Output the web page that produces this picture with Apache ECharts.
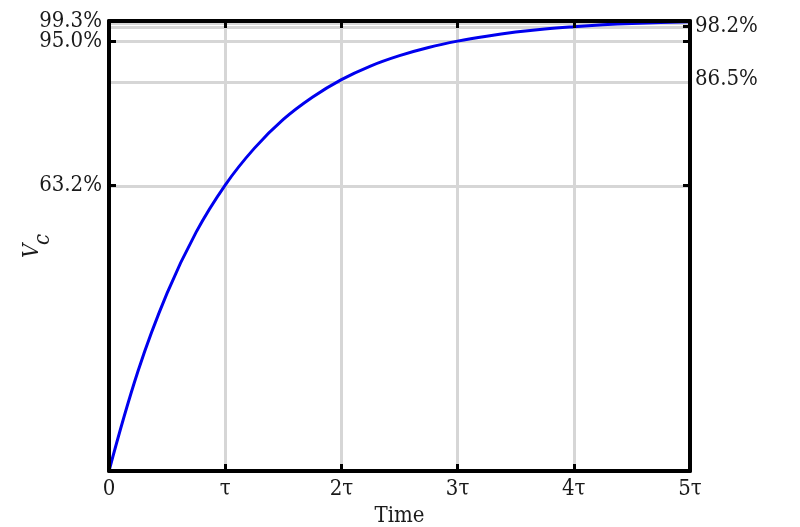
<!DOCTYPE html>
<html>
<head>
<meta charset="utf-8">
<script src="https://cdn.jsdelivr.net/npm/echarts@6/dist/echarts.min.js"></script>
<style>html,body{margin:0;padding:0;background:#fff}#c{width:800px;height:527px}</style>
</head>
<body>
<div id="c"></div>
<script>
// time in units of tau
const timeValues = [0, 0.25, 0.5, 0.75, 1, 1.25, 1.5, 1.75, 2, 2.25, 2.5, 2.75, 3, 3.25, 3.5, 3.75, 4, 4.25, 4.5, 4.75, 5];
// capacitor voltage (fraction of supply)
const vcValues = [0, 0.221, 0.393, 0.528, 0.632, 0.713, 0.777, 0.826, 0.865, 0.895, 0.918, 0.936, 0.950, 0.961, 0.970, 0.977, 0.982, 0.986, 0.989, 0.991, 0.993];
const xTickLabels = ['0', 'τ', '2τ', '3τ', '4τ', '5τ'];
const xGridLevels = [1, 2, 3, 4];
const leftLevels = [0.632, 0.950];
const leftTopLevels = [0.993];
const rightLevels = [0.865, 0.982];
const rightTickLevels = [0.632, 0.950, 0.982];
const gridLevels = [0.632, 0.865, 0.950, 0.982, 0.993];
const yMax = 0.9945;

const FONT = '"DejaVu Serif Condensed", "DejaVu Serif", serif';
const TXT = '#1a1a1a';
const FS = 22;
const GRID = '#d6d6d6';
const chart = echarts.init(document.getElementById('c'), null, {renderer: 'canvas'});
const pct = v => (v * 100).toFixed(1) + '%';
const axisLine = {show: true, onZero: false, lineStyle: {color: '#000', width: 4}};
const tick = {show: true, inside: true, length: 7, lineStyle: {color: '#000', width: 3}};
const lbl = {formatter: pct, fontFamily: FONT, fontSize: FS, color: TXT, showMaxLabel: true, showMinLabel: true, hideOverlap: false};

chart.setOption({
  animation: false,
  backgroundColor: '#fff',
  grid: {left: 109, right: 110, top: 21, bottom: 56, containLabel: false, outerBoundsMode: 'none'},
  xAxis: [{
    type: 'value', min: 0, max: 5, interval: 1, position: 'bottom', z: 10,
    name: 'Time', nameLocation: 'middle', nameGap: 33,
    nameTextStyle: {fontFamily: FONT, fontSize: FS, color: TXT},
    axisLine: axisLine,
    axisTick: tick,
    axisLabel: {fontFamily: FONT, fontSize: FS, color: TXT, margin: 7,
      formatter: v => xTickLabels[Math.round(v)]},
    splitLine: {show: false}
  }, {
    type: 'value', min: 0, max: 5, interval: 1, position: 'top', z: 10,
    axisLine: axisLine, axisTick: tick, axisLabel: {show: false}, splitLine: {show: false}
  }],
  yAxis: [{
    type: 'value', min: 0, max: yMax, position: 'left', z: 10,
    axisLine: axisLine,
    axisTick: Object.assign({}, tick, {customValues: leftLevels}),
    axisLabel: Object.assign({customValues: leftLevels, margin: 7}, lbl),
    splitLine: {show: false}
  }, {
    type: 'value', min: 0, max: yMax, position: 'right', z: 10,
    axisLine: axisLine,
    axisTick: Object.assign({}, tick, {customValues: rightTickLevels}),
    axisLabel: Object.assign({customValues: rightLevels, margin: 5}, lbl),
    splitLine: {show: false}
  }, {
    type: 'value', min: 0, max: yMax, position: 'left', offset: 0, z: 10,
    axisLine: {show: false},
    axisTick: Object.assign({}, tick, {customValues: leftTopLevels}),
    axisLabel: Object.assign({customValues: leftTopLevels, margin: 7}, lbl),
    splitLine: {show: false}
  }],
  graphic: [{
    type: 'group', x: 38, y: 258, rotation: Math.PI / 2,
    children: [
      {type: 'text', x: 0, y: 5, style: {text: 'V', fontFamily: FONT, fontSize: FS, fontStyle: 'italic', fill: TXT, align: 'left', verticalAlign: 'bottom'}},
      {type: 'text', x: 13, y: 16, style: {text: 'c', fontFamily: FONT, fontSize: FS, fontStyle: 'italic', fill: TXT, align: 'left', verticalAlign: 'bottom'}}
    ]
  }],
  series: [{
    type: 'line', data: [], z: 1, silent: true,
    markLine: {
      z: 1, silent: true, symbol: 'none', label: {show: false},
      lineStyle: {color: GRID, width: 3, type: 'solid'},
      data: gridLevels.map(v => ({yAxis: v})).concat(xGridLevels.map(v => ({xAxis: v})))
    }
  }, {
    type: 'line', z: 3,
    data: timeValues.map((t, i) => [t, vcValues[i]]),
    smooth: 0.4, showSymbol: false, symbol: 'none',
    lineStyle: {color: '#0000ee', width: 3}
  }]
});
</script>
</body>
</html>
